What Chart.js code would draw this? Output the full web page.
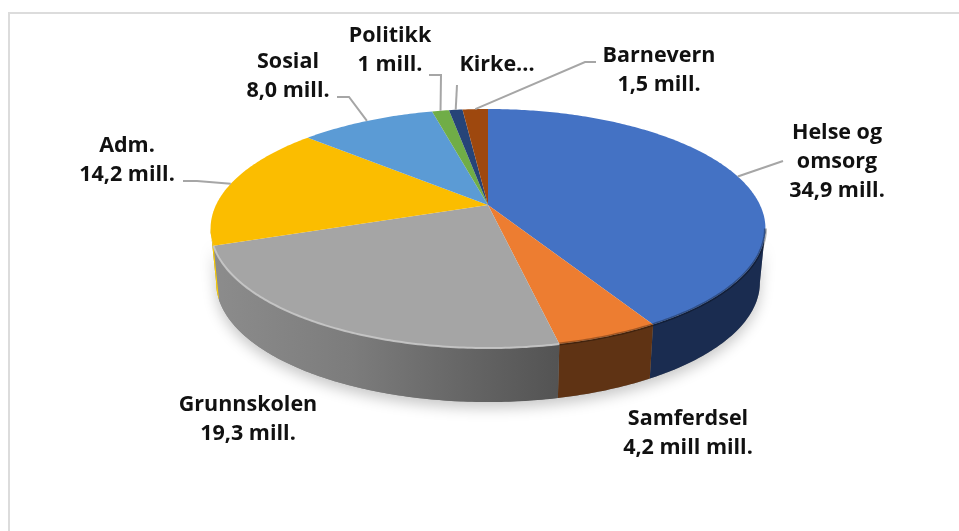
<!DOCTYPE html>
<html>
<head>
<meta charset="utf-8">
<style>
    html, body { margin: 0; padding: 0; background: #fff; }
    #wrap { position: relative; width: 959px; height: 531px; overflow: hidden; }
    #frame { position: absolute; left: 8px; top: 12px; right: -5px; bottom: -5px; border: 2px solid #dcdcdc; }
    #budget { position: absolute; left: 0; top: 0; }
</style>
<script src="https://cdn.jsdelivr.net/npm/chart.js@4/dist/chart.umd.min.js"></script>
</head>
<body>
<div id="wrap">
    <div id="frame"></div>
    <canvas id="budget" width="959" height="531"></canvas>
</div>
<script>
// Values read from the labels, Kirke is cut off in the picture so it is estimated
const categories = ['Helse og omsorg', 'Samferdsel', 'Grunnskolen', 'Adm.', 'Sosial', 'Politikk', 'Kirke', 'Barnevern'];
const values = [34.9, 4.2, 19.3, 14.2, 8.0, 1.0, 0.8, 1.5];
const faceColors = ['#4472C4', '#ED7D31', '#A5A5A5', '#FBBD00', '#5B9BD5', '#70AD47', '#264478', '#9E480E'];
const wallColors = ['#1A2C50', '#5F3314', '#777777', '#FFD000', '#2F5D88', '#3F6428', '#14274A', '#5F2B08'];

// Label text per slice, one entry per line
const labelLines = [
    ['Helse og', 'omsorg', '34,9 mill.'],
    ['Samferdsel', '4,2 mill mill.'],
    ['Grunnskolen', '19,3 mill.'],
    ['Adm.', '14,2 mill.'],
    ['Sosial', '8,0 mill.'],
    ['Politikk', '1 mill.'],
    ['Kirke...'],
    ['Barnevern', '1,5 mill.']
];

// Where each label sits and how its leader line runs (first baseline centre, then leader points from label to pie)
const labelLayout = [
    { x: 837, y: 133, leader: [[783, 161]] },
    { x: 688, y: 419, leader: null },
    { x: 248, y: 405, leader: null },
    { x: 127, y: 146, leader: [[183, 181], [197, 181]] },
    { x: 288, y: 62, leader: [[337, 97], [349, 97]] },
    { x: 390, y: 36, leader: [[429, 75], [441, 75]] },
    { x: 497, y: 65, leader: [[457, 85]] },
    { x: 659, y: 56, leader: [[596, 62], [585, 62]] }
];

const LINE_HEIGHT = 29;
const CENTER_X = 488;
const CENTER_Y = 205;
const RADIUS_X = 272;
const RADIUS_Y = 114.9;
const TILT = 0.1967; // how much nearer the front edge is than the back edge
const DEPTH = 54;
const WALL_SHRINK = 0.98;

// Takes an angle from the pie and gives the point on the tilted rim
function rimPoint(angle, depth) {
    const u = Math.cos(angle);
    const v = Math.sin(angle);
    const w = 1 - TILT * v;
    let shrink = 1;
    if (depth) {
        shrink = WALL_SHRINK;
    }
    return {
        x: CENTER_X + shrink * RADIUS_X * u / w,
        y: CENTER_Y + RADIUS_Y * v / w + (depth || 0)
    };
}

function traceRim(ctx, from, to, depth, moveFirst) {
    const steps = Math.max(2, Math.ceil(Math.abs(to - from) * 80));
    for (let i = 0; i <= steps; i++) {
        const p = rimPoint(from + (to - from) * i / steps, depth);
        if (i === 0 && moveFirst) {
            ctx.moveTo(p.x, p.y);
        } else {
            ctx.lineTo(p.x, p.y);
        }
    }
}

const pieTilt = {
    id: 'pieTilt',
    // The library works out the slice angles, this only draws them tilted with a wall
    beforeDatasetsDraw(chart) {
        const ctx = chart.ctx;
        const arcs = chart.getDatasetMeta(0).data;
        const wallStart = Math.asin(TILT);
        const wallEnd = Math.PI - wallStart;

        // soft shadow under the wall
        ctx.save();
        ctx.shadowColor = 'rgba(0,0,0,0.22)';
        ctx.shadowBlur = 14;
        ctx.shadowOffsetY = 6;
        ctx.fillStyle = '#888';
        ctx.beginPath();
        traceRim(ctx, wallStart, wallEnd, 0, true);
        traceRim(ctx, wallEnd, wallStart, DEPTH, false);
        ctx.closePath();
        ctx.fill();
        ctx.restore();

        // walls
        arcs.forEach((arc, i) => {
            const from = Math.max(arc.startAngle, wallStart);
            const to = Math.min(arc.endAngle, wallEnd);
            if (to <= from) {
                return;
            }
            let fill = wallColors[i];
            if (categories[i] === 'Grunnskolen') {
                const left = rimPoint(to).x;
                const right = rimPoint(from).x;
                fill = ctx.createLinearGradient(left, 0, right, 0);
                fill.addColorStop(0, '#8C8C8C');
                fill.addColorStop(0.4, '#7C7C7C');
                fill.addColorStop(1, '#535353');
            }
            ctx.fillStyle = fill;
            ctx.beginPath();
            traceRim(ctx, from, to, 0, true);
            traceRim(ctx, to, from, DEPTH, false);
            ctx.closePath();
            ctx.fill();
        });

        // top faces
        arcs.forEach((arc, i) => {
            ctx.fillStyle = faceColors[i];
            ctx.beginPath();
            ctx.moveTo(CENTER_X, CENTER_Y);
            traceRim(ctx, arc.startAngle, arc.endAngle, 0, false);
            ctx.closePath();
            ctx.fill();
        });

        // bevel along the front edge
        arcs.forEach((arc, i) => {
            const from = Math.max(arc.startAngle, wallStart);
            const to = Math.min(arc.endAngle, wallEnd);
            if (to <= from || categories[i] === 'Adm.') {
                return;
            }
            ctx.beginPath();
            traceRim(ctx, from, to, 0, true);
            if (categories[i] === 'Grunnskolen') {
                ctx.strokeStyle = 'rgba(200,200,200,0.9)';
                ctx.lineWidth = 2;
            } else {
                ctx.strokeStyle = 'rgba(0,0,0,0.3)';
                ctx.lineWidth = 3;
            }
            ctx.stroke();
        });
        return false;
    },
    // returning false above also skips afterDatasetsDraw, so the labels go here
    afterDraw(chart) {
        const ctx = chart.ctx;
        const arcs = chart.getDatasetMeta(0).data;
        ctx.save();
        ctx.strokeStyle = '#A6A6A6';
        ctx.lineWidth = 2;
        labelLayout.forEach((item, i) => {
            if (!item.leader) {
                return;
            }
            const end = rimPoint((arcs[i].startAngle + arcs[i].endAngle) / 2);
            ctx.beginPath();
            item.leader.forEach((p, n) => {
                if (n === 0) {
                    ctx.moveTo(p[0], p[1]);
                } else {
                    ctx.lineTo(p[0], p[1]);
                }
            });
            ctx.lineTo(end.x, end.y);
            ctx.stroke();
        });
        ctx.fillStyle = '#111';
        ctx.font = '700 21.5px "Open Sans"';
        ctx.textAlign = 'center';
        ctx.textBaseline = 'middle';
        labelLayout.forEach((item, i) => {
            labelLines[i].forEach((line, n) => {
                ctx.fillText(line, item.x, item.y + n * LINE_HEIGHT);
            });
        });
        ctx.restore();
    }
};

new Chart(document.getElementById('budget'), {
    type: 'pie',
    data: {
        labels: categories,
        datasets: [{
            data: values,
            backgroundColor: faceColors,
            borderWidth: 0
        }]
    },
    options: {
        responsive: false,
        animation: false,
        plugins: {
            legend: { display: false },
            tooltip: { enabled: false }
        }
    },
    plugins: [pieTilt]
});
</script>
</body>
</html>
